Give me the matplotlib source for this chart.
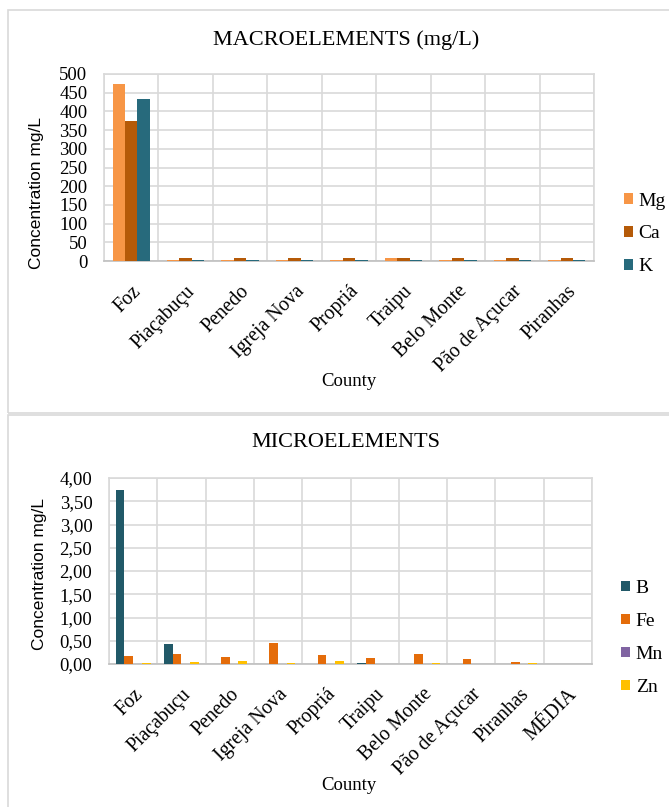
import numpy as np
import matplotlib
matplotlib.use("Agg")
import matplotlib.pyplot as plt
from matplotlib.patches import Rectangle

# ---- data ----
macro_counties = ["Foz", "Piaçabuçu", "Penedo", "Igreja Nova", "Propriá",
                  "Traipu", "Belo Monte", "Pão de Açucar", "Piranhas"]
mg = [474, 1.5, 1.5, 2.5, 2.5, 9, 1.5, 1.5, 1.5]
ca = [375, 8, 8, 8, 8, 8, 8, 8, 8]
k = [433, 3, 2, 3, 2, 2, 3, 2, 2]

micro_counties = ["Foz", "Piaçabuçu", "Penedo", "Igreja Nova", "Propriá",
                  "Traipu", "Belo Monte", "Pão de Açucar", "Piranhas", "MÉDIA"]
b = [3.75, 0.42, 0.0, 0.0, 0.0, 0.03, 0.0, 0.0, 0.0, 0.0]
fe = [0.18, 0.21, 0.14, 0.45, 0.20, 0.12, 0.21, 0.11, 0.04, 0.0]
mn = [0.0, 0.0, 0.0, 0.0, 0.0, 0.0, 0.0, 0.0, 0.0, 0.0]
zn = [0.02, 0.05, 0.06, 0.03, 0.06, 0.0, 0.03, 0.0, 0.03, 0.0]

W, H = 669, 807
SERIF = "Liberation Serif"
SANS = "Liberation Sans"
GRID = "#d9d9d9"
FS = 13.5


def px_axes(fig, left, top, right, bottom):
    return fig.add_axes([left / W, 1 - bottom / H, (right - left) / W, (bottom - top) / H])


def style_axes(ax, labels, ymax, step, fmt):
    n = len(labels)
    ticks = np.arange(0, ymax + step / 2, step)
    ax.set_xlim(-0.5, n - 0.5)
    ax.set_ylim(0, ymax)
    ax.set_yticks(ticks)
    ax.set_yticklabels([fmt(v) for v in ticks], family=SERIF, fontsize=FS)
    ax.set_xticks(np.arange(n))
    ax.set_xticklabels(labels, rotation=45, ha="right", rotation_mode="anchor",
                       family=SERIF, fontsize=14.2)
    ax.set_xticks(np.arange(n + 1) - 0.5, minor=True)
    ax.grid(True, which="minor", axis="x", color=GRID, lw=1.2)
    ax.grid(True, which="major", axis="y", color=GRID, lw=1.2)
    ax.set_axisbelow(True)
    for s in ["top", "right", "left"]:
        ax.spines[s].set_color(GRID)
        ax.spines[s].set_linewidth(1.2)
    ax.spines["bottom"].set_color("#bfbfbf")
    ax.spines["bottom"].set_linewidth(1.2)
    ax.tick_params(axis="y", length=0, pad=12)
    ax.tick_params(axis="x", which="both", length=0, pad=15)


def grouped_bars(ax, series, colors, width):
    n = len(series)
    x = np.arange(len(series[0]))
    for i, (vals, c) in enumerate(zip(series, colors)):
        ax.bar(x + (i - (n - 1) / 2) * width, vals, width, color=c, zorder=3)


def add_legend(ax, labels, x, y):
    ax.legend(labels, loc="center left", bbox_to_anchor=(x / W, 1 - y / H),
              bbox_transform=fig.transFigure, frameon=False, borderpad=0,
              borderaxespad=0, prop={"family": SERIF, "size": FS + 0.5},
              handlelength=0.45, handleheight=0.45, handletextpad=0.3,
              labelspacing=0.82)


fig = plt.figure(figsize=(W / 100, H / 100), dpi=100)

# chart borders
fig.patches.append(Rectangle((8 / W, 1 - 413 / H), 1, (413 - 10) / H,
                             transform=fig.transFigure, fill=False,
                             edgecolor=GRID, lw=1.2))
fig.patches.append(Rectangle((8 / W, -0.01), 1, (807 - 415) / H + 0.01,
                             transform=fig.transFigure, fill=False,
                             edgecolor=GRID, lw=1.2))

# ---- macroelements ----
ax1 = px_axes(fig, 104, 74, 594, 261)
grouped_bars(ax1, [mg, ca, k], ["#f79646", "#b55a08", "#276a7c"], 0.228)
style_axes(ax1, macro_counties, 500, 50, lambda v: f"{int(v)}")
ax1.set_ylabel("Concentration mg/L", family=SANS, fontsize=12.5)
ax1.yaxis.set_label_coords((44 - 104) / 490, (261 - 193) / 187)
fig.text(346 / W, 1 - 40 / H, "MACROELEMENTS (mg/L)", ha="center", va="center",
         family=SERIF, fontsize=16)
fig.text(349 / W, 1 - 381 / H, "County", ha="center", va="center",
         family=SERIF, fontsize=13.5)
add_legend(ax1, ["Mg", "Ca", "K"], 624, 234)

# ---- microelements ----
ax2 = px_axes(fig, 109, 478, 592, 664)
grouped_bars(ax2, [b, fe, mn, zn], ["#215968", "#e46c0a", "#8064a2", "#ffc000"], 0.18)
style_axes(ax2, micro_counties, 4.0, 0.5, lambda v: f"{v:.2f}".replace(".", ","))
ax2.set_ylabel("Concentration mg/L", family=SANS, fontsize=12.5)
ax2.yaxis.set_label_coords((47 - 109) / 483, (664 - 574) / 186)
fig.text(346 / W, 1 - 443 / H, "MICROELEMENTS", ha="center", va="center",
         family=SERIF, fontsize=16)
fig.text(349 / W, 1 - 785 / H, "County", ha="center", va="center",
         family=SERIF, fontsize=13.5)
add_legend(ax2, ["B", "Fe", "Mn", "Zn"], 621, 638)

fig.savefig("out.png", dpi=100)
